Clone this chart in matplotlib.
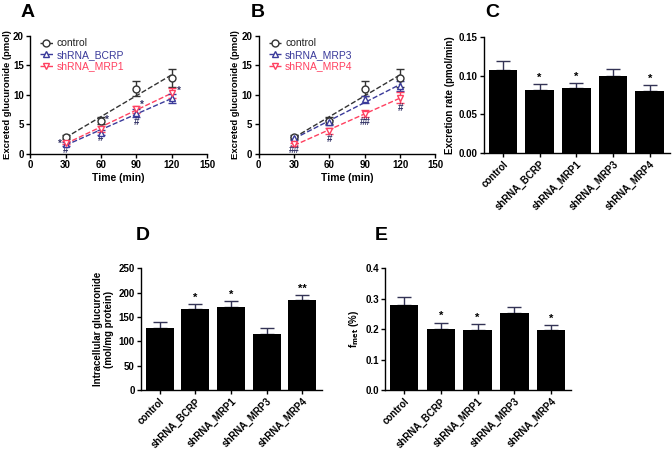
import numpy as np
import matplotlib.pyplot as plt

plt.rcParams['font.family'] = ['Liberation Sans', 'DejaVu Sans']
plt.rcParams['font.weight'] = 'bold'
plt.rcParams['axes.labelweight'] = 'bold'

NAVY = '#3a3a9a'
RED = '#ff4060'

# time course data (panels A, B)
time = [30, 60, 90, 120]
ctrl = [2.8, 5.6, 11.0, 12.8]
ctrl_err = [0.3, 0.6, 1.3, 1.5]
bcrp = [1.7, 3.6, 6.9, 9.4]
bcrp_err = [0.3, 0.5, 0.6, 0.8]
mrp1 = [1.9, 4.2, 7.5, 10.3]
mrp1_err = [0.3, 0.5, 0.6, 0.8]
mrp3 = [2.6, 5.3, 9.2, 11.5]
mrp3_err = [0.3, 0.5, 0.6, 0.8]
mrp4 = [1.6, 3.8, 6.8, 9.5]
mrp4_err = [0.3, 0.5, 0.6, 0.9]

# bar data (panels C, D, E)
groups = ['control', 'shRNA_BCRP', 'shRNA_MRP1', 'shRNA_MRP3', 'shRNA_MRP4']
rate = [0.107, 0.081, 0.084, 0.099, 0.080]
rate_err = [0.012, 0.008, 0.007, 0.010, 0.008]
rate_sig = ['', '*', '*', '', '*']
intra = [127, 166, 170, 116, 184]
intra_err = [13, 11, 12, 12, 12]
intra_sig = ['', '*', '*', '', '**']
fmet = [0.280, 0.202, 0.198, 0.254, 0.196]
fmet_err = [0.025, 0.020, 0.018, 0.020, 0.018]
fmet_sig = ['', '*', '*', '', '*']

W, H = 672, 451
fig = plt.figure(figsize=(W / 100, H / 100), dpi=100)


def letter(px, py, s):
    fig.text(px / W, 1 - py / H, s, fontsize=14, fontweight='bold',
             va='top', ha='left')


def style(ax):
    for s in ['top', 'right']:
        ax.spines[s].set_visible(False)
    for s in ['left', 'bottom']:
        ax.spines[s].set_linewidth(1.0)
    ax.tick_params(labelsize=7, width=1, length=3, pad=1.5)
    for t in ax.get_xticklabels() + ax.get_yticklabels():
        t.set_fontweight('bold')


def series(ax, y, err, marker, color, label):
    ax.errorbar(time, y, yerr=err, fmt=marker, color=color, mfc='white',
                ms=5, mew=1, capsize=3, elinewidth=1, zorder=3)
    k, b = np.polyfit(time, y, 1)
    xs = np.array([30, 120])
    ax.plot(xs, k * xs + b, '--', color=color, lw=1, zorder=2)
    ax.plot([], [], '--', marker=marker, color=color, mfc='white', ms=5,
            lw=1, label=label)


def timecourse(rect, s2, s3, marks):
    ax = fig.add_axes(rect)
    series(ax, ctrl, ctrl_err, 'o', '#333333', 'control')
    series(ax, s2[0], s2[1], '^', NAVY, s2[2])
    series(ax, s3[0], s3[1], 'v', RED, s3[2])
    ax.set_xlim(0, 150)
    ax.set_ylim(0, 20)
    ax.set_xticks([0, 30, 60, 90, 120, 150])
    ax.set_yticks([0, 5, 10, 15, 20])
    ax.set_xlabel('Time (min)', fontsize=7.5, labelpad=2)
    ax.set_ylabel('Excreted glucuronide (pmol)', fontsize=6.8, labelpad=1)
    leg = ax.legend(loc='upper left', frameon=False, fontsize=7.5,
                    handlelength=1.2, handletextpad=0.4, borderpad=0.1,
                    labelspacing=0.15, bbox_to_anchor=(0.02, 1.03))
    for t, c in zip(leg.get_texts(), ['#222222', NAVY, RED]):
        t.set_color(c)
        t.set_fontweight('normal')
    for x, y, s in marks:
        ax.text(x, y, s, fontsize=7, ha='center', va='center',
                color='#333366')
    style(ax)
    return ax


timecourse([0.045, 0.659, 0.263, 0.262],
           (bcrp, bcrp_err, 'shRNA_BCRP'), (mrp1, mrp1_err, 'shRNA_MRP1'),
           [(25, 1.6, '*'), (30, 0.6, '#'), (65, 5.8, '*'), (60, 2.6, '#'),
            (95, 8.3, '*'), (90, 5.3, '#'), (126, 10.7, '*')])
timecourse([0.385, 0.659, 0.263, 0.262],
           (mrp3, mrp3_err, 'shRNA_MRP3'), (mrp4, mrp4_err, 'shRNA_MRP4'),
           [(30, 0.6, '##'), (60, 2.5, '#'), (90, 5.3, '##'), (120, 7.8, '#')])


def bars(rect, vals, errs, sig, ylim, yticks, ylabel, fmt):
    ax = fig.add_axes(rect)
    x = np.arange(len(groups))
    ax.bar(x, vals, width=0.78, color='black', zorder=2)
    ax.errorbar(x, vals, yerr=[np.zeros(len(vals)), errs], fmt='none',
                ecolor='#333355', capsize=5, elinewidth=1, zorder=1)
    for xi, v, e, s in zip(x, vals, errs, sig):
        if s:
            ax.text(xi, v + e + ylim[1] * 0.01, s, ha='center', va='bottom',
                    fontsize=8)
    ax.set_xlim(-0.52, 4.55)
    ax.set_ylim(*ylim)
    ax.set_yticks(yticks)
    ax.set_yticklabels([fmt.format(t) for t in yticks])
    ax.set_xticks(x)
    ax.set_xticklabels(groups, rotation=45, ha='right', rotation_mode='anchor')
    ax.set_ylabel(ylabel, fontsize=7, labelpad=3)
    style(ax)
    return ax


bars([0.720, 0.661, 0.277, 0.257], rate, rate_err, rate_sig,
     (0, 0.15), [0, 0.05, 0.10, 0.15], 'Excretion rate (pmol/min)', '{:.2f}')
bars([0.210, 0.135, 0.269, 0.270], intra, intra_err, intra_sig,
     (0, 250), [0, 50, 100, 150, 200, 250],
     'Intracellular glucuronide\n(mol/mg protein)', '{:.0f}')
bars([0.573, 0.135, 0.277, 0.270], fmet, fmet_err, fmet_sig,
     (0, 0.4), [0, 0.1, 0.2, 0.3, 0.4], r'f$_{\mathbf{met}}$ (%)', '{:.1f}')

letter(21, 4, 'A')
letter(251, 4, 'B')
letter(485, 4, 'C')
letter(136, 227, 'D')
letter(375, 227, 'E')

fig.savefig('out.png', dpi=100)
